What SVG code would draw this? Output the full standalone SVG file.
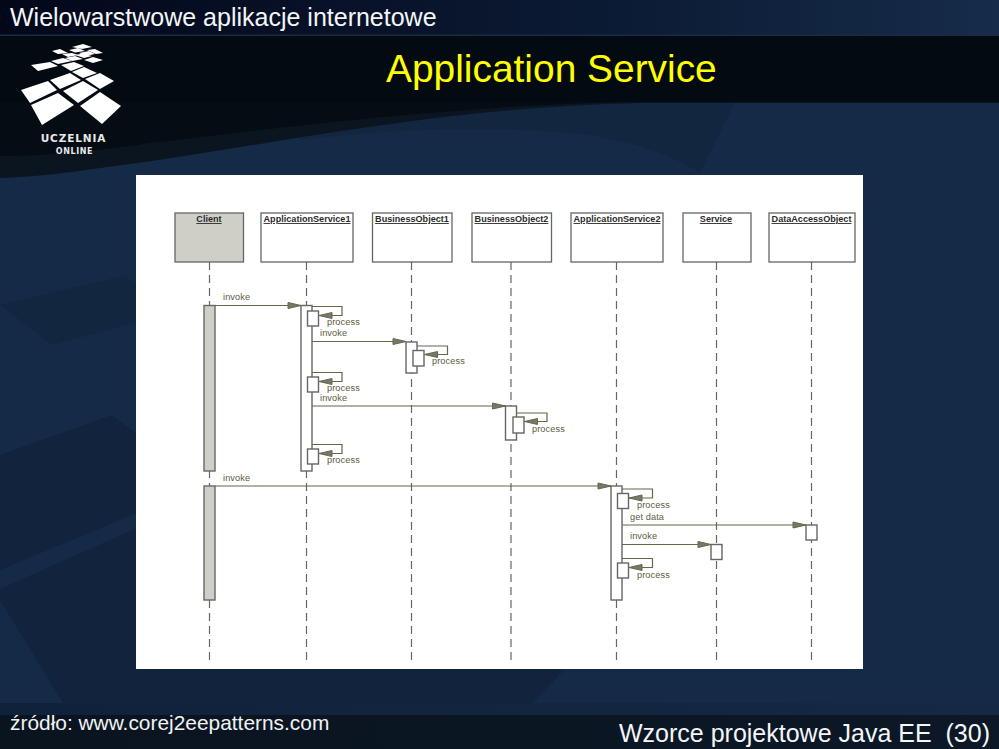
<svg xmlns="http://www.w3.org/2000/svg" width="999" height="749" viewBox="0 0 999 749">
  <style>
    text { font-family: "Liberation Sans", Arial, sans-serif; }
    .slide-title { fill: #f4f6f8; font-size: 25px; }
    .head { fill: #ffff00; font-size: 38.900px; }
    .source { fill: #f0f2f4; font-size: 20.900px; }
    .logo-mark { fill: #ffffff; }
    .brand { fill: #e8e8e8; font-family: "DejaVu Sans", sans-serif; text-anchor: middle; }
    .box { fill: #ffffff; stroke: #666666; stroke-width: 1.3; }
    .box.actor { fill: #cfcfc8; }
    .name { fill: #2c2c2c; font-size: 9.100px; font-weight: bold; text-anchor: middle; text-decoration: underline; }
    .life { stroke: #666666; stroke-width: 1.2; stroke-dasharray: 8 5; fill: none; }
    .bar { fill: #ffffff; stroke: #666666; stroke-width: 1.4; }
    .bar.actor { fill: #cfcfc8; }
    .msg { fill: none; stroke: #66664a; stroke-width: 1.2; marker-end: url(#head); }
    .lab { fill: #5c5c40; font-size: 9.200px; letter-spacing: 0.1px; }
  </style>
  <defs>
    <marker id="head" markerUnits="userSpaceOnUse" markerWidth="15" markerHeight="9" refX="14" refY="4" orient="auto">
      <path d="M1 1 L14 4 L1 7 Z" fill="#77776c" stroke="#66664a" stroke-width="1"/>
    </marker>
    <linearGradient id="topbar" x1="0" x2="1" y1="0" y2="0">
      <stop offset="0" stop-color="#03071a"/>
      <stop offset="0.6" stop-color="#0b1a33"/>
      <stop offset="1" stop-color="#162c4a"/>
    </linearGradient>
    <linearGradient id="footbar" x1="0" x2="1" y1="0" y2="0">
      <stop offset="0" stop-color="#0a141f"/>
      <stop offset="1" stop-color="#0c1827"/>
    </linearGradient>
    <linearGradient id="footstrip" x1="0" x2="1" y1="0" y2="0">
      <stop offset="0" stop-color="#10213a"/>
      <stop offset="1" stop-color="#152944"/>
    </linearGradient>
  </defs>

  <!-- slide background -->
  <rect width="999" height="749" fill="#152a47"/>
  <path d="M300 103 H735 L700 172 C660 150 630 142 590 135 C500 125 400 128 300 140 Z" fill="#12263f"/>
  <path d="M0 305 L123 276 L137 283 V322 L52 345 Z" fill="#13263f"/>
  <path d="M0 455 L112 415 L137 434 V513 L0 570 Z" fill="#12243d"/>
  <path d="M0 589 L137 528 V669 H565 L533 703 H63 L0 600 Z" fill="#12243d"/>
  <path d="M0 36 H999 V103 H640 C420 108 250 150 100 168 C60 174 30 177 0 178 Z" fill="#0a1520"/>
  <path d="M0 36 H999 V102 H640 C470 104 300 125 150 143 C90 152 40 156 0 156 Z" fill="#060c14"/>
  <rect y="36" width="999" height="66" fill="#040a12"/>
  <rect width="999" height="35" fill="url(#topbar)"/>
  <rect y="34.500" width="999" height="1.500" fill="#1a2b42"/>
  <rect y="703" width="999" height="12" fill="url(#footstrip)"/>
  <rect y="715" width="999" height="34" fill="url(#footbar)"/>

  <!-- logo -->
  <g id="logo" class="logo-mark">
    <path d="M21 90 L48 81 L57 90 L30 103 Z"/>
    <path d="M31 105 L58 93 L74 105 L42 125 Z"/>
    <path d="M80 106 L100 92 L121 106 L102 124 Z"/>
    <path d="M63 91 L83 81 L98 90 L78 103 Z"/>
    <path d="M50 80 L70 73 L81 80 L60 89 Z"/>
    <path d="M85 79 L100 73 L114 81 L100 89 Z"/>
    <path d="M72 72 L84 67 L97 73 L83 78 Z"/>
    <path d="M61 65 L74 62 L84 66 L71 71 Z"/>
    <path d="M31 65 L50 62 L58 66 L38 71 Z"/>
    <path d="M51 61 L63 58 L72 61 L58 64 Z"/>
    <path d="M65 58 L75 56 L83 59 L72 61 Z"/>
    <path d="M84 60 L93 57 L103 60 L93 63 Z"/>
    <path d="M75 55 L83 53.500 L92 56 L84 58 Z"/>
    <path d="M52 51 L60 49 L68 53 L58 54 Z"/>
    <path d="M62 54 L72 53 L78 55 L68 57 Z"/>
    <path d="M69 50 L78 48 L85 51 L75 52.500 Z"/>
    <path d="M79 53 L89 51 L95 54 L85 56 Z"/>
    <path d="M87 50 L95 49 L103 53 L96 54 Z"/>
    <path d="M72 47 L83 44 L92 47 L82 49 Z"/>
    <text class="brand" x="73.500" y="142" font-size="10.500" font-weight="bold" letter-spacing="0.9">UCZELNIA</text>
    <text class="brand" x="74.500" y="153.500" font-size="8" font-weight="bold" letter-spacing="0.6">ONLINE</text>
  </g>

  <!-- slide texts -->
  <text class="slide-title" x="10" y="26">Wielowarstwowe aplikacje internetowe</text>
  <text class="head" x="386" y="82">Application Service</text>
  <text class="source" x="10" y="730">źródło: www.corej2eepatterns.com</text>
  <text class="slide-title" x="619" y="742" xml:space="preserve">Wzorce projektowe Java EE  (30)</text>

  <!-- diagram sheet -->
  <rect x="136" y="175" width="727" height="494" fill="#ffffff"/>

  <g id="client">
    <line class="life" x1="209.500" y1="262" x2="209.500" y2="662"/>
    <rect class="box actor" x="175" y="213" width="68.500" height="49"/>
    <text class="name" x="209" y="222">Client</text>
    <rect class="bar actor" x="204" y="305.500" width="11" height="165.500"/>
    <rect class="bar actor" x="204" y="486" width="11" height="114"/>
  </g>
  <g id="application-service-1">
    <line class="life" x1="306.500" y1="262" x2="306.500" y2="662"/>
    <rect class="box" x="261" y="213" width="92" height="49"/>
    <text class="name" x="307" y="222">ApplicationService1</text>
    <rect class="bar" x="301" y="305.500" width="11" height="165.500"/>
    <rect class="bar" x="307.500" y="311" width="11" height="15"/>
    <rect class="bar" x="307.500" y="377" width="11" height="15"/>
    <rect class="bar" x="307.500" y="449" width="11" height="15"/>
  </g>
  <g id="business-object-1">
    <line class="life" x1="411.500" y1="262" x2="411.500" y2="662"/>
    <rect class="box" x="372.500" y="213" width="79.500" height="49"/>
    <text class="name" x="412" y="222">BusinessObject1</text>
    <rect class="bar" x="406" y="342" width="11" height="31"/>
    <rect class="bar" x="413" y="350.500" width="11" height="15.500"/>
  </g>
  <g id="business-object-2">
    <line class="life" x1="511" y1="262" x2="511" y2="662"/>
    <rect class="box" x="472" y="213" width="79.500" height="49"/>
    <text class="name" x="511.500" y="222">BusinessObject2</text>
    <rect class="bar" x="505.500" y="406" width="11" height="34"/>
    <rect class="bar" x="513" y="417" width="11" height="16"/>
  </g>
  <g id="application-service-2">
    <line class="life" x1="616.500" y1="262" x2="616.500" y2="662"/>
    <rect class="box" x="571" y="213" width="92" height="49"/>
    <text class="name" x="617" y="222">ApplicationService2</text>
    <rect class="bar" x="611" y="486" width="11" height="114"/>
    <rect class="bar" x="617.500" y="493.500" width="11" height="15"/>
    <rect class="bar" x="617.500" y="563" width="11" height="15"/>
  </g>
  <g id="service">
    <line class="life" x1="716.500" y1="262" x2="716.500" y2="662"/>
    <rect class="box" x="683" y="213" width="68" height="49"/>
    <text class="name" x="716" y="222">Service</text>
    <rect class="bar" x="711" y="544.500" width="11" height="15"/>
  </g>
  <g id="data-access-object">
    <line class="life" x1="811.500" y1="262" x2="811.500" y2="662"/>
    <rect class="box" x="769" y="213" width="86" height="49"/>
    <text class="name" x="811.500" y="222">DataAccessObject</text>
    <rect class="bar" x="806" y="525" width="11" height="15"/>
  </g>

  <g id="connectors">
    <path class="msg" d="M215 305.500 H301"/>
    <text class="lab" x="223" y="300">invoke</text>
    <path class="msg" d="M312 306.500 H342 V315.500 H319"/>
    <text class="lab" x="327" y="325">process</text>
    <path class="msg" d="M312 341.500 H406"/>
    <text class="lab" x="320" y="336">invoke</text>
    <path class="msg" d="M417 346 H447.500 V354.500 H424.500"/>
    <text class="lab" x="432" y="364">process</text>
    <path class="msg" d="M312 372.500 H342 V381.500 H319"/>
    <text class="lab" x="327" y="391">process</text>
    <path class="msg" d="M312 406 H505.500"/>
    <text class="lab" x="320" y="401">invoke</text>
    <path class="msg" d="M516.500 413 H547 V421.500 H524.500"/>
    <text class="lab" x="532" y="432">process</text>
    <path class="msg" d="M312 444.500 H342 V453.500 H319"/>
    <text class="lab" x="327" y="463">process</text>
    <path class="msg" d="M215 486 H611"/>
    <text class="lab" x="223" y="481">invoke</text>
    <path class="msg" d="M622 489 H652.500 V498 H629"/>
    <text class="lab" x="637" y="508">process</text>
    <path class="msg" d="M622 525 H806"/>
    <text class="lab" x="630" y="520">get data</text>
    <path class="msg" d="M622 544.500 H711"/>
    <text class="lab" x="630" y="539">invoke</text>
    <path class="msg" d="M622 558.500 H652.500 V567.500 H629"/>
    <text class="lab" x="637" y="578">process</text>
  </g>
</svg>
